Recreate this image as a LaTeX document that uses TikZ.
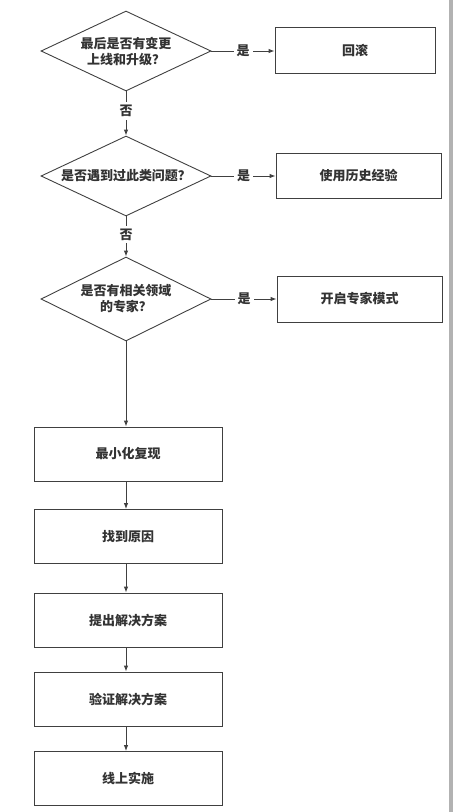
\documentclass[tikz,border=0pt]{standalone}
\usepackage{fontspec}
\newfontfamily\cjk{Noto Sans CJK SC}
\usetikzlibrary{shapes.geometric,arrows.meta}
\begin{document}
\begin{tikzpicture}[x=1pt,y=-1pt,
  every node/.style={font=\cjk\bfseries\fontsize{13}{16}\selectfont, text=black!80},
  decision/.style={diamond, draw=black!75, line width=0.9pt, minimum width=170pt, minimum height=80pt, inner sep=0pt, aspect=2.1, align=center},
  sidebox/.style={draw=black!75, line width=0.9pt, minimum height=46pt, inner sep=0pt},
  mainbox/.style={draw=black!75, line width=0.9pt, minimum width=188pt, minimum height=54pt, inner sep=0pt},
  conn/.style={draw=black!75, line width=0.9pt, -{Latex[length=6pt,width=4.5pt]}},
  lbl/.style={fill=white, inner sep=3pt}
]
\useasboundingbox (0,0) rectangle (454,812);
\fill[black!30] (449,0) rectangle (453,812);

\node[decision] (d1) at (126,51) {最后是否有变更\\上线和升级？};
\node[decision] (d2) at (126,176) {是否遇到过此类问题？};
\node[decision, minimum height=84pt] (d3) at (126,299) {是否有相关领域\\的专家？};

\node[sidebox, minimum width=160pt] (b1) at (355,50) {回滚};
\node[sidebox, minimum width=165pt, minimum height=45pt] (b2) at (358.5,175.5) {使用历史经验};
\node[sidebox, minimum width=165pt] (b3) at (359.5,299) {开启专家模式};

\node[mainbox] (m1) at (128,454) {最小化复现};
\node[mainbox] (m2) at (128,536.5) {找到原因};
\node[mainbox] (m3) at (128,620) {提出解决方案};
\node[mainbox] (m4) at (128,699) {验证解决方案};
\node[mainbox] (m5) at (128,778.5) {线上实施};

\draw[conn] (d1.east) -- node[lbl] {是} (b1.west |- d1.east);
\draw[conn] (d2.east) -- node[lbl] {是} (b2.west |- d2.east);
\draw[conn] (d3.east) -- node[lbl] {是} (b3.west |- d3.east);

\draw[conn] (d1.south) -- node[lbl, pos=0.45] {否} (d2.north);
\draw[conn] (d2.south) -- node[lbl, pos=0.45] {否} (d3.north);
\draw[conn] (d3.south) -- (d3.south |- m1.north);

\draw[conn] (m1.south -| d3.south) -- (m2.north -| d3.south);
\draw[conn] (m2.south -| d3.south) -- (m3.north -| d3.south);
\draw[conn] (m3.south -| d3.south) -- (m4.north -| d3.south);
\draw[conn] (m4.south -| d3.south) -- (m5.north -| d3.south);
\end{tikzpicture}
\end{document}
